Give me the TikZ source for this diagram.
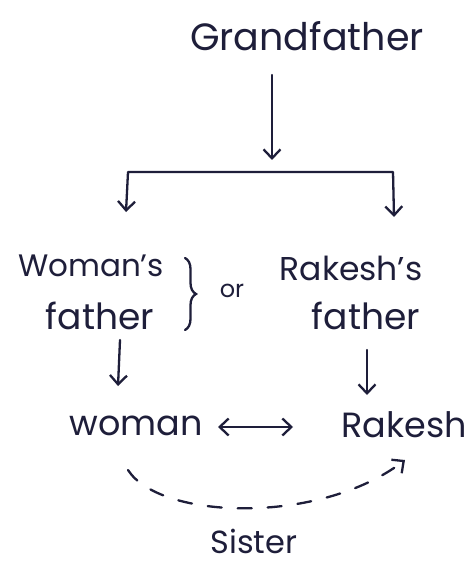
\documentclass[tikz,border=0pt]{standalone}
\usepackage{fontspec}
\setmainfont{Poppins}
\usetikzlibrary{arrows.meta,decorations.pathreplacing}
\definecolor{ink}{HTML}{1E1E3A}
\newcommand{\fs}[1]{\fontsize{#1}{#1}\selectfont}
\begin{document}
\begin{tikzpicture}[x=1pt,y=1pt,
  lbl/.style={inner sep=0pt,text=ink,font=\fs{34}},
  conn/.style={draw=ink,line width=2.3pt,line cap=round,line join=round,
    -{Straight Barb[length=9pt,width=17pt,line width=2.3pt]}},
  both/.style={conn,{Straight Barb[length=9pt,width=17pt,line width=2.3pt]}-{Straight Barb[length=9pt,width=17pt,line width=2.3pt]}}]
\useasboundingbox[fill=white] (0,-569) rectangle (472,0);
% nodes
\node[lbl,font=\fs{38}] (gf) at (307,-36) {Grandfather};
\node[lbl,font=\fs{31}] (wf1) at (91,-266) {Woman's};
\node[lbl,font=\fs{36}] (wf2) at (100,-316) {father};
\node[lbl,font=\fs{33}] (rf1) at (351,-268) {Rakesh's};
\node[lbl,font=\fs{36}] (rf2) at (366,-316) {father};
\node[lbl,font=\fs{24}] (or) at (232,-291) {or};
\node[lbl,font=\fs{35}] (wo) at (136,-426) {woman};
\node[lbl,font=\fs{35}] (ra) at (404,-425) {Rakesh};
\node[lbl,font=\fs{32}] (si) at (254,-541) {Sister};
% coordinates
\coordinate (g1) at (272,-75);
\coordinate (g2) at (272,-160);
\coordinate (lt) at (126,-212);
\coordinate (bl) at (128,-172);
\coordinate (br) at (393,-172);
\coordinate (rt) at (394,-217);
\coordinate (w1) at (120,-340);
\coordinate (w2) at (118,-386);
\coordinate (r1) at (367,-350);
\coordinate (r2) at (367,-395);
\coordinate (d1) at (218,-427);
\coordinate (d2) at (293,-427);
\coordinate (s1) at (128,-470);
\coordinate (s2) at (405,-460);
\coordinate (bt) at (185,-258);
\coordinate (bb) at (185,-330);
% connectors
\draw[conn] (g1) -- (g2);
\draw[both] (lt) -- (bl) -- (br) -- (rt);
\draw[conn] (w1) -- (w2);
\draw[conn] (r1) -- (r2);
\draw[both] (d1) -- (d2);
\draw[conn,dash pattern=on 14pt off 16pt] (s1) .. controls (160,-520) and (320,-525) .. (s2);
\draw[draw=ink,line width=2.3pt,line cap=round,decorate,decoration={brace,amplitude=11pt}] (bt) -- (bb);
\end{tikzpicture}
\end{document}
